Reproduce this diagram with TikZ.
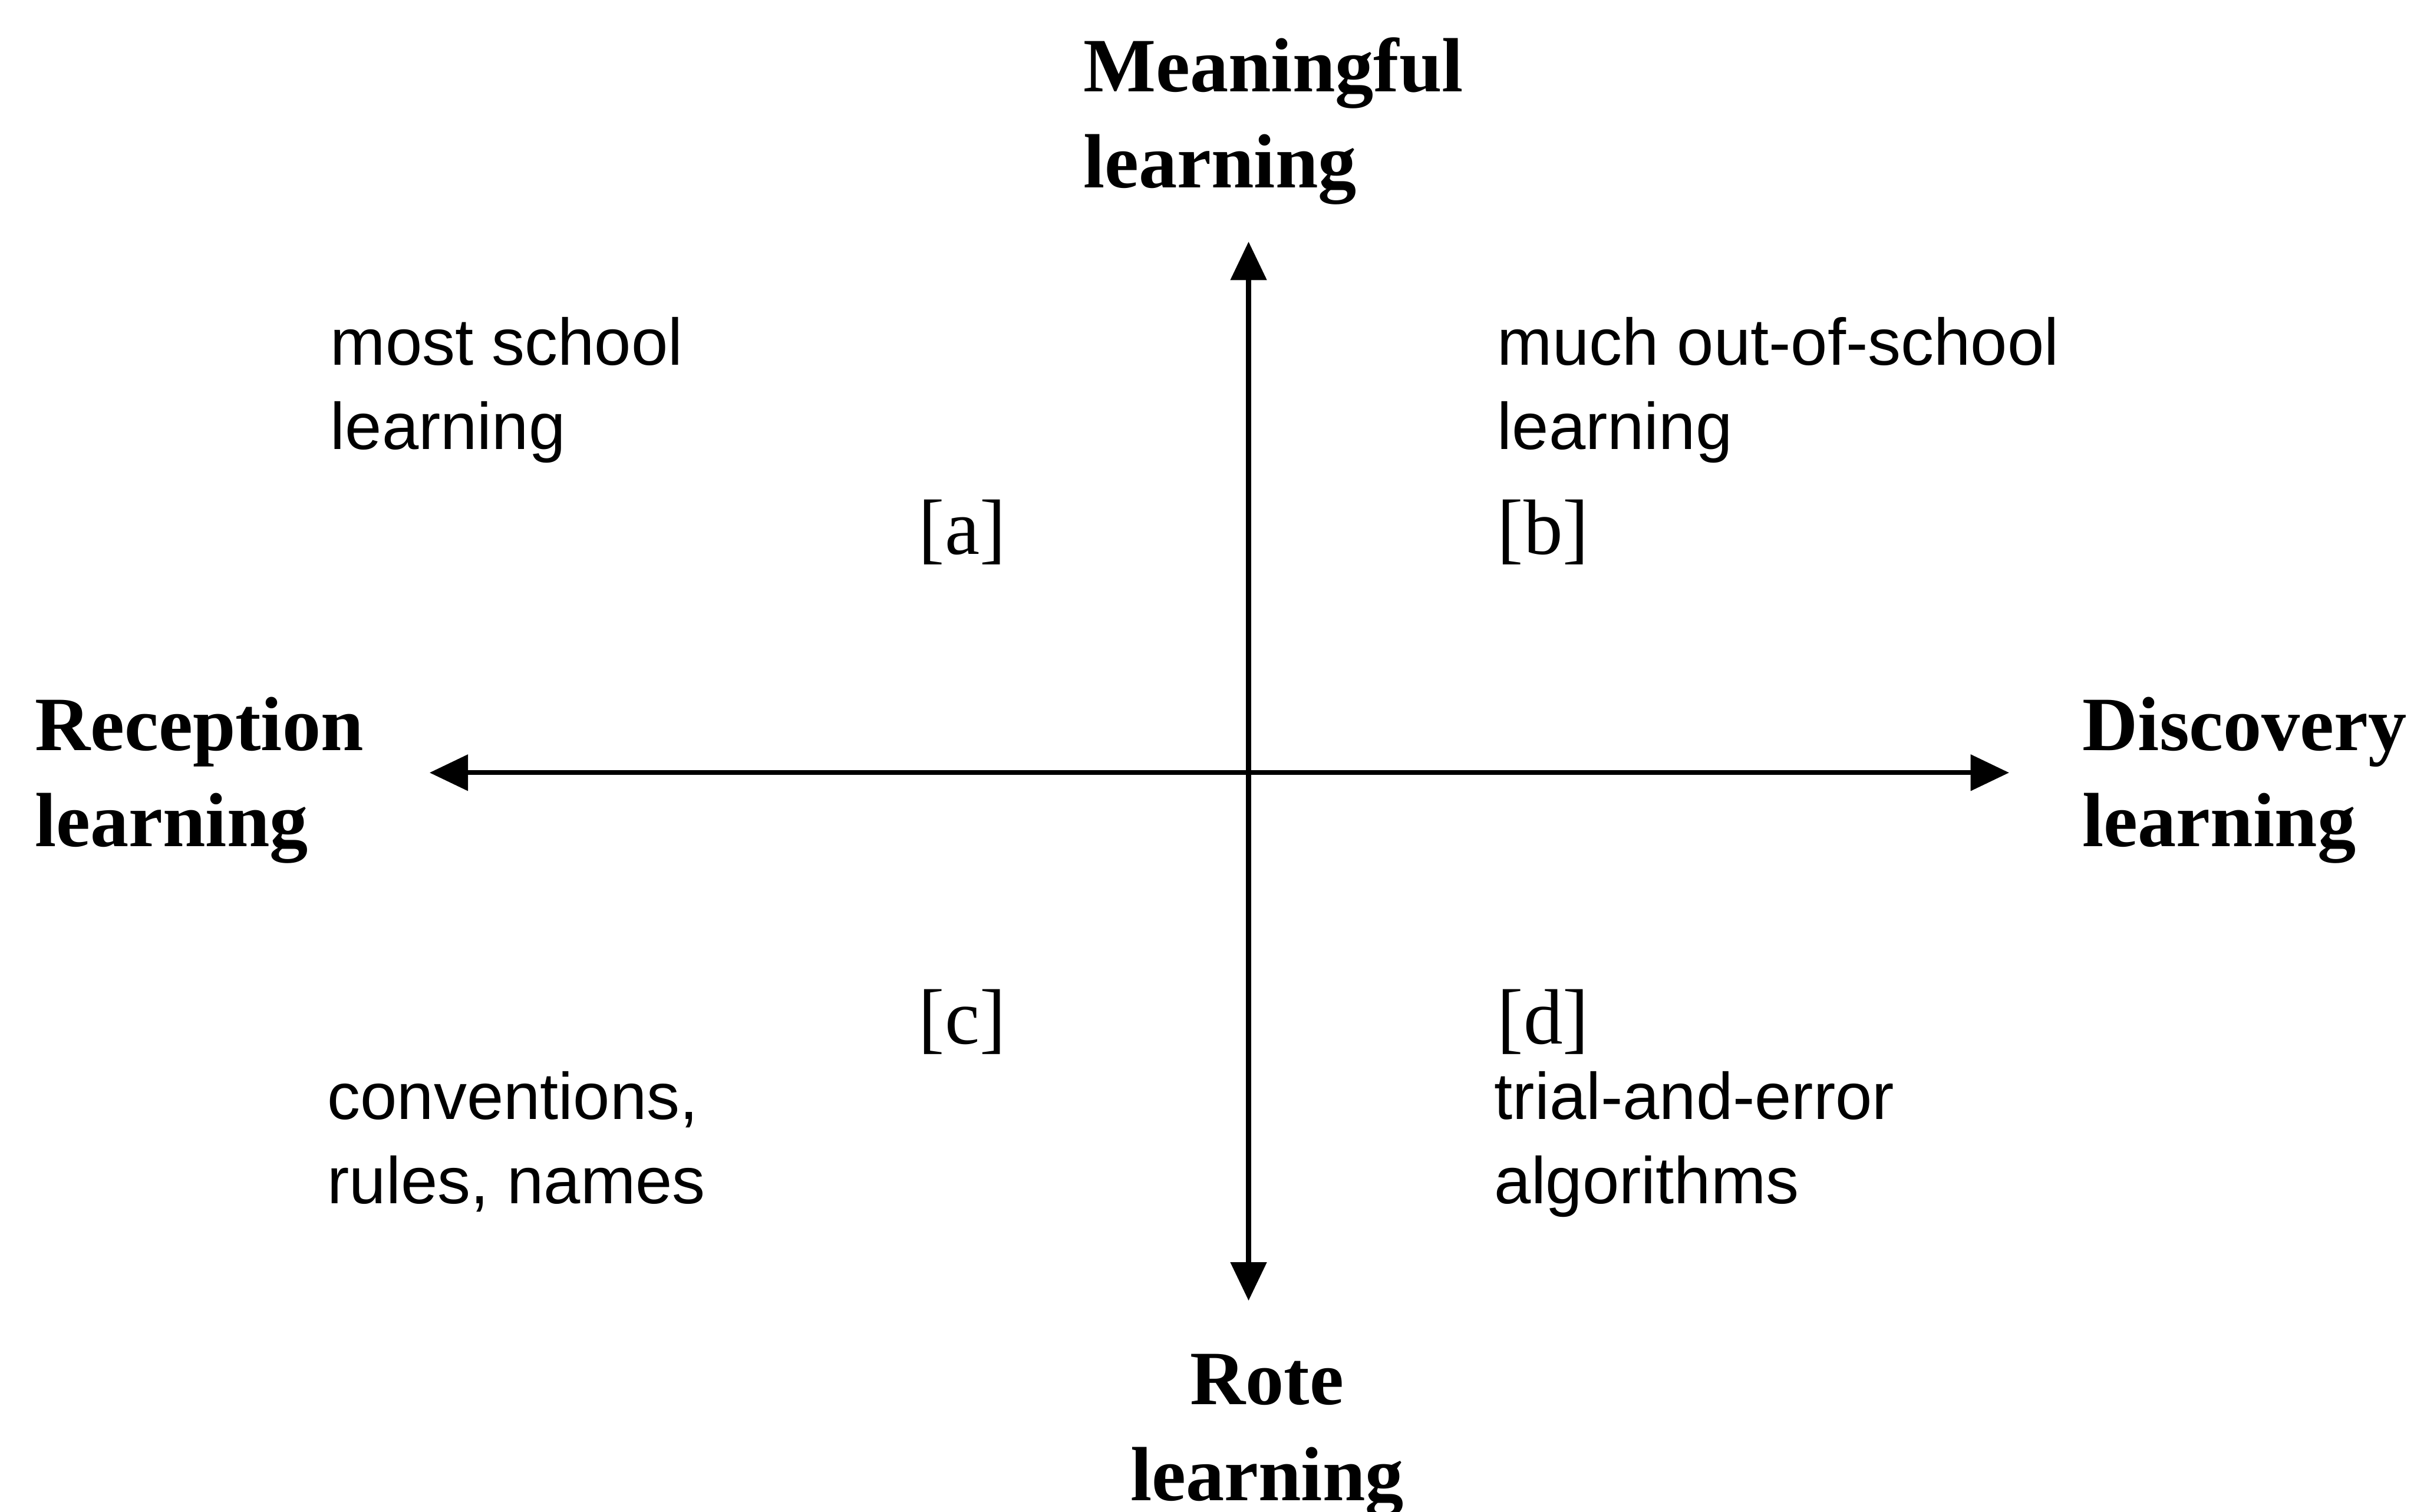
\documentclass[tikz,border=0pt]{standalone}
\usepackage{fontspec}
\setmainfont{Liberation Serif}
\setsansfont{Liberation Sans}
\usetikzlibrary{arrows.meta,positioning}
\colorlet{axisink}{black}

\tikzset{
  axislabel/.style={font=\bfseries\fontsize{14.2}{17.8}\selectfont, align=left, inner sep=0pt, anchor=base west},
  quadnote/.style={font=\sffamily\fontsize{12.2}{15.6}\selectfont, align=left, inner sep=0pt, anchor=base west},
  quadtag/.style={font=\fontsize{14.5}{17}\selectfont, inner sep=0pt, anchor=base west},
  axisline/.style={axisink, line width=0.9pt, {Triangle[length=2.5mm,width=2.3mm]}-{Triangle[length=2.5mm,width=2.3mm]}}
}

\begin{document}
\begin{tikzpicture}
        \useasboundingbox (0,0) rectangle (15.68,9.82);
        % Axis end points, origin in the middle
        \coordinate (O) at (8.11,4.80);
        \coordinate (top) at (8.11,8.25);
        \coordinate (bottom) at (8.11,1.37);
        \coordinate (left) at (2.79,4.80);
        \coordinate (right) at (13.05,4.80);
        % The two axes
        \draw[axisline] (bottom) -- (top);
        \draw[axisline] (left) -- (right);
        % Axis labels (base = last line)
        \node[axislabel] (meaningful) at (7.03,8.60) {Meaningful\\learning};
        \node[axislabel, align=center, anchor=base] (rote) at (8.23,0.07) {Rote\\learning};
        \node[axislabel] (reception) at (0.22,4.32) {Reception\\learning};
        \node[axislabel] (discovery) at (13.52,4.32) {Discovery\\learning};
        % Quadrant notes
        \node[quadnote] (noteA) at (2.14,6.90) {most school\\learning};
        \node[quadnote] (noteB) at (9.72,6.90) {much out-of-school\\learning};
        \node[quadnote] (noteC) at (2.12,2.00) {conventions,\\rules, names};
        \node[quadnote] (noteD) at (9.70,2.00) {trial-and-error\\algorithms};
        % Quadrant tags
        \node[quadtag] (tagA) at (5.96,6.22) {[a]};
        \node[quadtag] (tagB) at (9.72,6.22) {[b]};
        \node[quadtag] (tagC) at (5.96,3.04) {[c]};
        \node[quadtag] (tagD) at (9.72,3.04) {[d]};
      \end{tikzpicture}
\end{document}
